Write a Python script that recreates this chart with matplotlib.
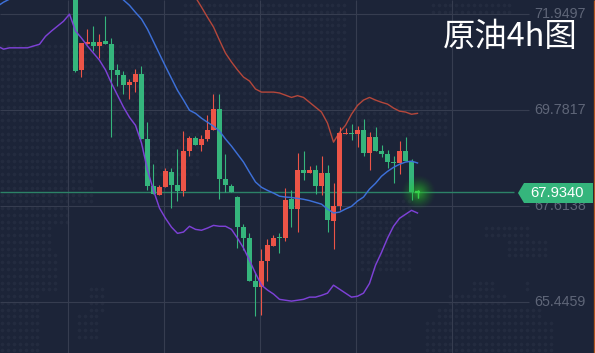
import numpy as np
import matplotlib
matplotlib.use("Agg")
import matplotlib.pyplot as plt
from matplotlib.patches import Polygon

plt.rcParams["font.family"] = ["Liberation Sans", "Noto Sans CJK SC", "DejaVu Sans"]

# candles, green = falling, red = rising
opens = [72.49, 70.69, 71.28, 71.32, 71.23, 71.34, 71.27, 70.69, 70.57, 70.35,
         70.41, 70.60, 69.13, 68.07, 67.86, 68.04, 68.38, 68.09, 67.95, 68.86,
         69.15, 68.99, 69.13, 69.33, 69.80, 68.22, 68.07, 67.82, 67.14, 66.89,
         65.92, 65.78, 66.37, 66.71, 66.91, 66.89, 67.77, 67.55, 68.43, 68.36,
         68.43, 68.07, 68.36, 67.27, 67.61, 69.24, 69.26, 69.24, 69.33, 68.81,
         69.17, 68.86, 68.79, 68.61, 68.59, 68.86, 68.63, 67.95]
closes = [70.66, 71.30, 71.32, 71.23, 71.32, 71.27, 70.69, 70.57, 70.35, 70.41,
          70.60, 69.13, 68.07, 67.88, 68.04, 68.40, 68.09, 67.95, 68.86, 69.15,
          68.99, 69.13, 69.33, 69.80, 68.22, 68.09, 67.93, 67.14, 66.89, 65.92,
          65.78, 66.37, 66.73, 66.89, 66.89, 67.75, 67.55, 68.43, 68.36, 68.43,
          68.07, 68.36, 67.30, 67.61, 69.26, 69.26, 69.24, 69.33, 68.81, 69.17,
          68.86, 68.79, 68.61, 68.59, 68.86, 68.63, 67.93, 67.934]
highs = [72.54, 71.30, 71.61, 71.68, 71.50, 71.90, 71.41, 70.82, 70.66, 70.48,
         70.71, 70.77, 69.51, 68.56, 68.09, 68.47, 68.47, 68.90, 69.31, 69.19,
         69.19, 69.22, 69.67, 70.14, 70.14, 68.79, 68.11, 67.84, 67.21, 67.00,
         66.10, 66.64, 66.87, 66.96, 67.00, 68.02, 67.99, 68.81, 68.86, 68.52,
         68.54, 68.74, 68.54, 68.13, 69.40, 69.37, 69.47, 69.42, 69.58, 69.28,
         69.40, 68.99, 68.88, 68.74, 69.08, 69.17, 68.67, 67.97]
lows = [70.64, 70.53, 71.28, 71.11, 70.96, 71.27, 69.17, 70.32, 70.14, 70.03,
        70.19, 69.13, 67.97, 67.88, 67.86, 68.04, 67.57, 67.73, 67.84, 68.74,
        68.99, 68.86, 69.08, 69.33, 67.77, 67.93, 67.93, 66.67, 66.62, 65.92,
        65.13, 65.15, 65.92, 66.71, 66.55, 66.82, 67.14, 67.03, 68.20, 68.36,
        67.88, 67.86, 67.03, 66.64, 67.52, 69.24, 69.10, 68.95, 68.74, 68.43,
        68.86, 68.72, 68.47, 68.13, 68.34, 68.63, 67.75, 67.79]

# bollinger bands, index -13 .. 57
band_index = list(range(-13, 58))
lower_band = [71.23, 71.16, 71.19, 71.19, 71.19, 71.19, 71.23, 71.27, 71.45, 71.57,
              71.68, 71.79, 71.95, 71.57, 71.41, 71.23, 71.07, 70.91, 70.69, 70.39,
              70.12, 69.85, 69.62, 69.44, 69.04, 68.43, 67.97, 67.57, 67.34, 67.14,
              67.00, 67.03, 67.16, 67.09, 67.07, 67.12, 67.18, 67.16, 67.16, 67.09,
              66.89, 66.67, 66.39, 66.10, 65.83, 65.72, 65.63, 65.51, 65.49, 65.47,
              65.49, 65.51, 65.56, 65.56, 65.60, 65.65, 65.83, 65.74, 65.65, 65.56,
              65.58, 65.65, 65.87, 66.28, 66.57, 66.89, 67.16, 67.34, 67.43, 67.52,
              67.46]
# the middle band leaves the picture between index -11 and 8
middle_index = [-13, -12, -11, -10] + list(range(8, 58))
middle_band = [72.13, 72.22, 72.29, float("nan"),
               72.27, 72.15, 71.99, 71.84, 71.61, 71.33, 71.05, 70.77, 70.50, 70.23,
               70.01, 69.78, 69.71, 69.60, 69.51, 69.42, 69.31, 69.13, 68.97, 68.79,
               68.61, 68.38, 68.16, 68.04, 67.97, 67.91, 67.84, 67.82, 67.81, 67.79,
               67.77, 67.74, 67.70, 67.66, 67.55, 67.46, 67.48, 67.55, 67.61, 67.73,
               67.82, 68.00, 68.13, 68.29, 68.40, 68.49, 68.56, 68.61, 68.63, 68.59]
upper_index = list(range(20, 58))
upper_band = [72.33, 72.11, 71.88, 71.66, 71.36, 71.07, 70.87, 70.69, 70.53, 70.44,
              70.26, 70.19, 70.19, 70.19, 70.17, 70.12, 70.07, 70.11, 70.07, 69.96,
              69.85, 69.74, 69.49, 69.06, 69.28, 69.44, 69.69, 69.89, 70.01, 70.07,
              70.01, 69.96, 69.92, 69.83, 69.76, 69.74, 69.69, 69.71]

price_ticks = [71.9497, 69.7817, 67.6138, 65.4459]
time_grid = [-1.167, 14.833, 30.833, 46.833, 62.833]
last_price = 67.9340
title = "原油4h图"

BG = "#1c2438"
GREEN = "#35b57c"
RED = "#ec5447"
GRID = "#363d50"

# background dot map regions, pixels: x0, x1, y0, y1
dot_regions = [(0, 200, 40, 180), (180, 350, 0, 130), (0, 95, 180, 205), (0, 72, 205, 225),
               (0, 55, 225, 250), (0, 60, 250, 295), (0, 38, 295, 353), (85, 108, 285, 315),
               (78, 100, 315, 340), (320, 450, 90, 140), (360, 410, 200, 270),
               (430, 510, 0, 18), (482, 530, 225, 236), (505, 548, 236, 256),
               (470, 495, 278, 292), (445, 505, 292, 306), (434, 540, 306, 318),
               (423, 555, 318, 353), (523, 532, 280, 293)]

fig = plt.figure(figsize=(5.95, 3.53), dpi=100, facecolor=BG)

# pixel layer for the dots and the glow
bg = fig.add_axes([0, 0, 1, 1], zorder=0)
bg.set_xlim(0, 595)
bg.set_ylim(353, 0)
bg.axis("off")
xs, ys = np.meshgrid(np.arange(2, 595, 5.9), np.arange(5, 353, 6.77))
xs, ys = xs.ravel(), ys.ravel()
mask = np.zeros(xs.shape, dtype=bool)
for x0, x1, y0, y1 in dot_regions:
    mask |= (xs >= x0) & (xs <= x1) & (ys >= y0) & (ys <= y1)
bg.scatter(xs[mask], ys[mask], s=7, color="#232b3f", linewidths=0)

ax = fig.add_axes([0, 0, 1, 1], zorder=1)
ax.patch.set_alpha(0)
ax.set_xlim(-12.583, 86.583)
ax.set_ylim(72.27 - 353 * 2.1679 / 96, 72.27)
ax.axis("off")

ax.hlines(price_ticks, -12.583, 75.6, color=GRID, lw=0.8, zorder=1)
ax.vlines(time_grid, ax.get_ylim()[0], ax.get_ylim()[1], color=GRID, lw=0.8, zorder=1)
ax.hlines(last_price, -12.583, 73, color="#2c8267", lw=1.0, zorder=2)

ax.plot(upper_index, upper_band, color="#b5473b", lw=1.0, zorder=3)
ax.plot(middle_index, middle_band, color="#3d70d8", lw=1.05, zorder=5)
ax.plot(band_index, lower_band, color="#7d41d6", lw=1.05, zorder=5)

idx = np.arange(len(opens))
colors = [GREEN if c < o else RED for o, c in zip(opens, closes)]
ax.vlines(idx, lows, highs, color=colors, lw=0.8, zorder=4)
bottoms = np.minimum(opens, closes)
heights = np.maximum(np.abs(np.subtract(closes, opens)), 0.03)
ax.bar(idx, heights, bottom=bottoms, width=5.2 / 6, color=colors, linewidth=0, zorder=4)

# glow on the last candle
for r, a in zip(np.linspace(17, 3, 14), np.linspace(0.02, 0.09, 14)):
    ax.scatter([idx[-1]], [last_price], s=(2 * r * 0.72) ** 2, color="#2fd32f",
               alpha=a, linewidths=0, zorder=6)
ax.vlines(idx[-1], lows[-1], highs[-1], color="#35d24a", lw=1.0, zorder=7)
ax.hlines(last_price, idx[-1] - 0.4, idx[-1] + 0.4, color="#35d24a", lw=1.6, zorder=7)

for p in price_ticks:
    ax.text(76.4, p, f"{p:.4f}", color="#5f6678", fontsize=10.3, va="center", ha="left", zorder=8)

# last price tag
bg2 = fig.add_axes([0, 0, 1, 1], zorder=2)
bg2.set_xlim(0, 595)
bg2.set_ylim(353, 0)
bg2.axis("off")
bg2.add_patch(Polygon([(518, 193), (524, 183), (593, 183), (593, 203), (524, 203)],
                      closed=True, color=GREEN, linewidth=0))
bg2.text(530.5, 193, f"{last_price:.4f}", color="white", fontsize=10.6, va="center", ha="left")
bg2.vlines(594.4, 0, 353, color="#b5551f", lw=0.9)
bg2.text(443, 37, title, color="white", fontsize=23.3, va="center", ha="left",
         family=["Noto Sans CJK SC", "DejaVu Sans"])

fig.savefig("out.png", dpi=100, facecolor=BG)
